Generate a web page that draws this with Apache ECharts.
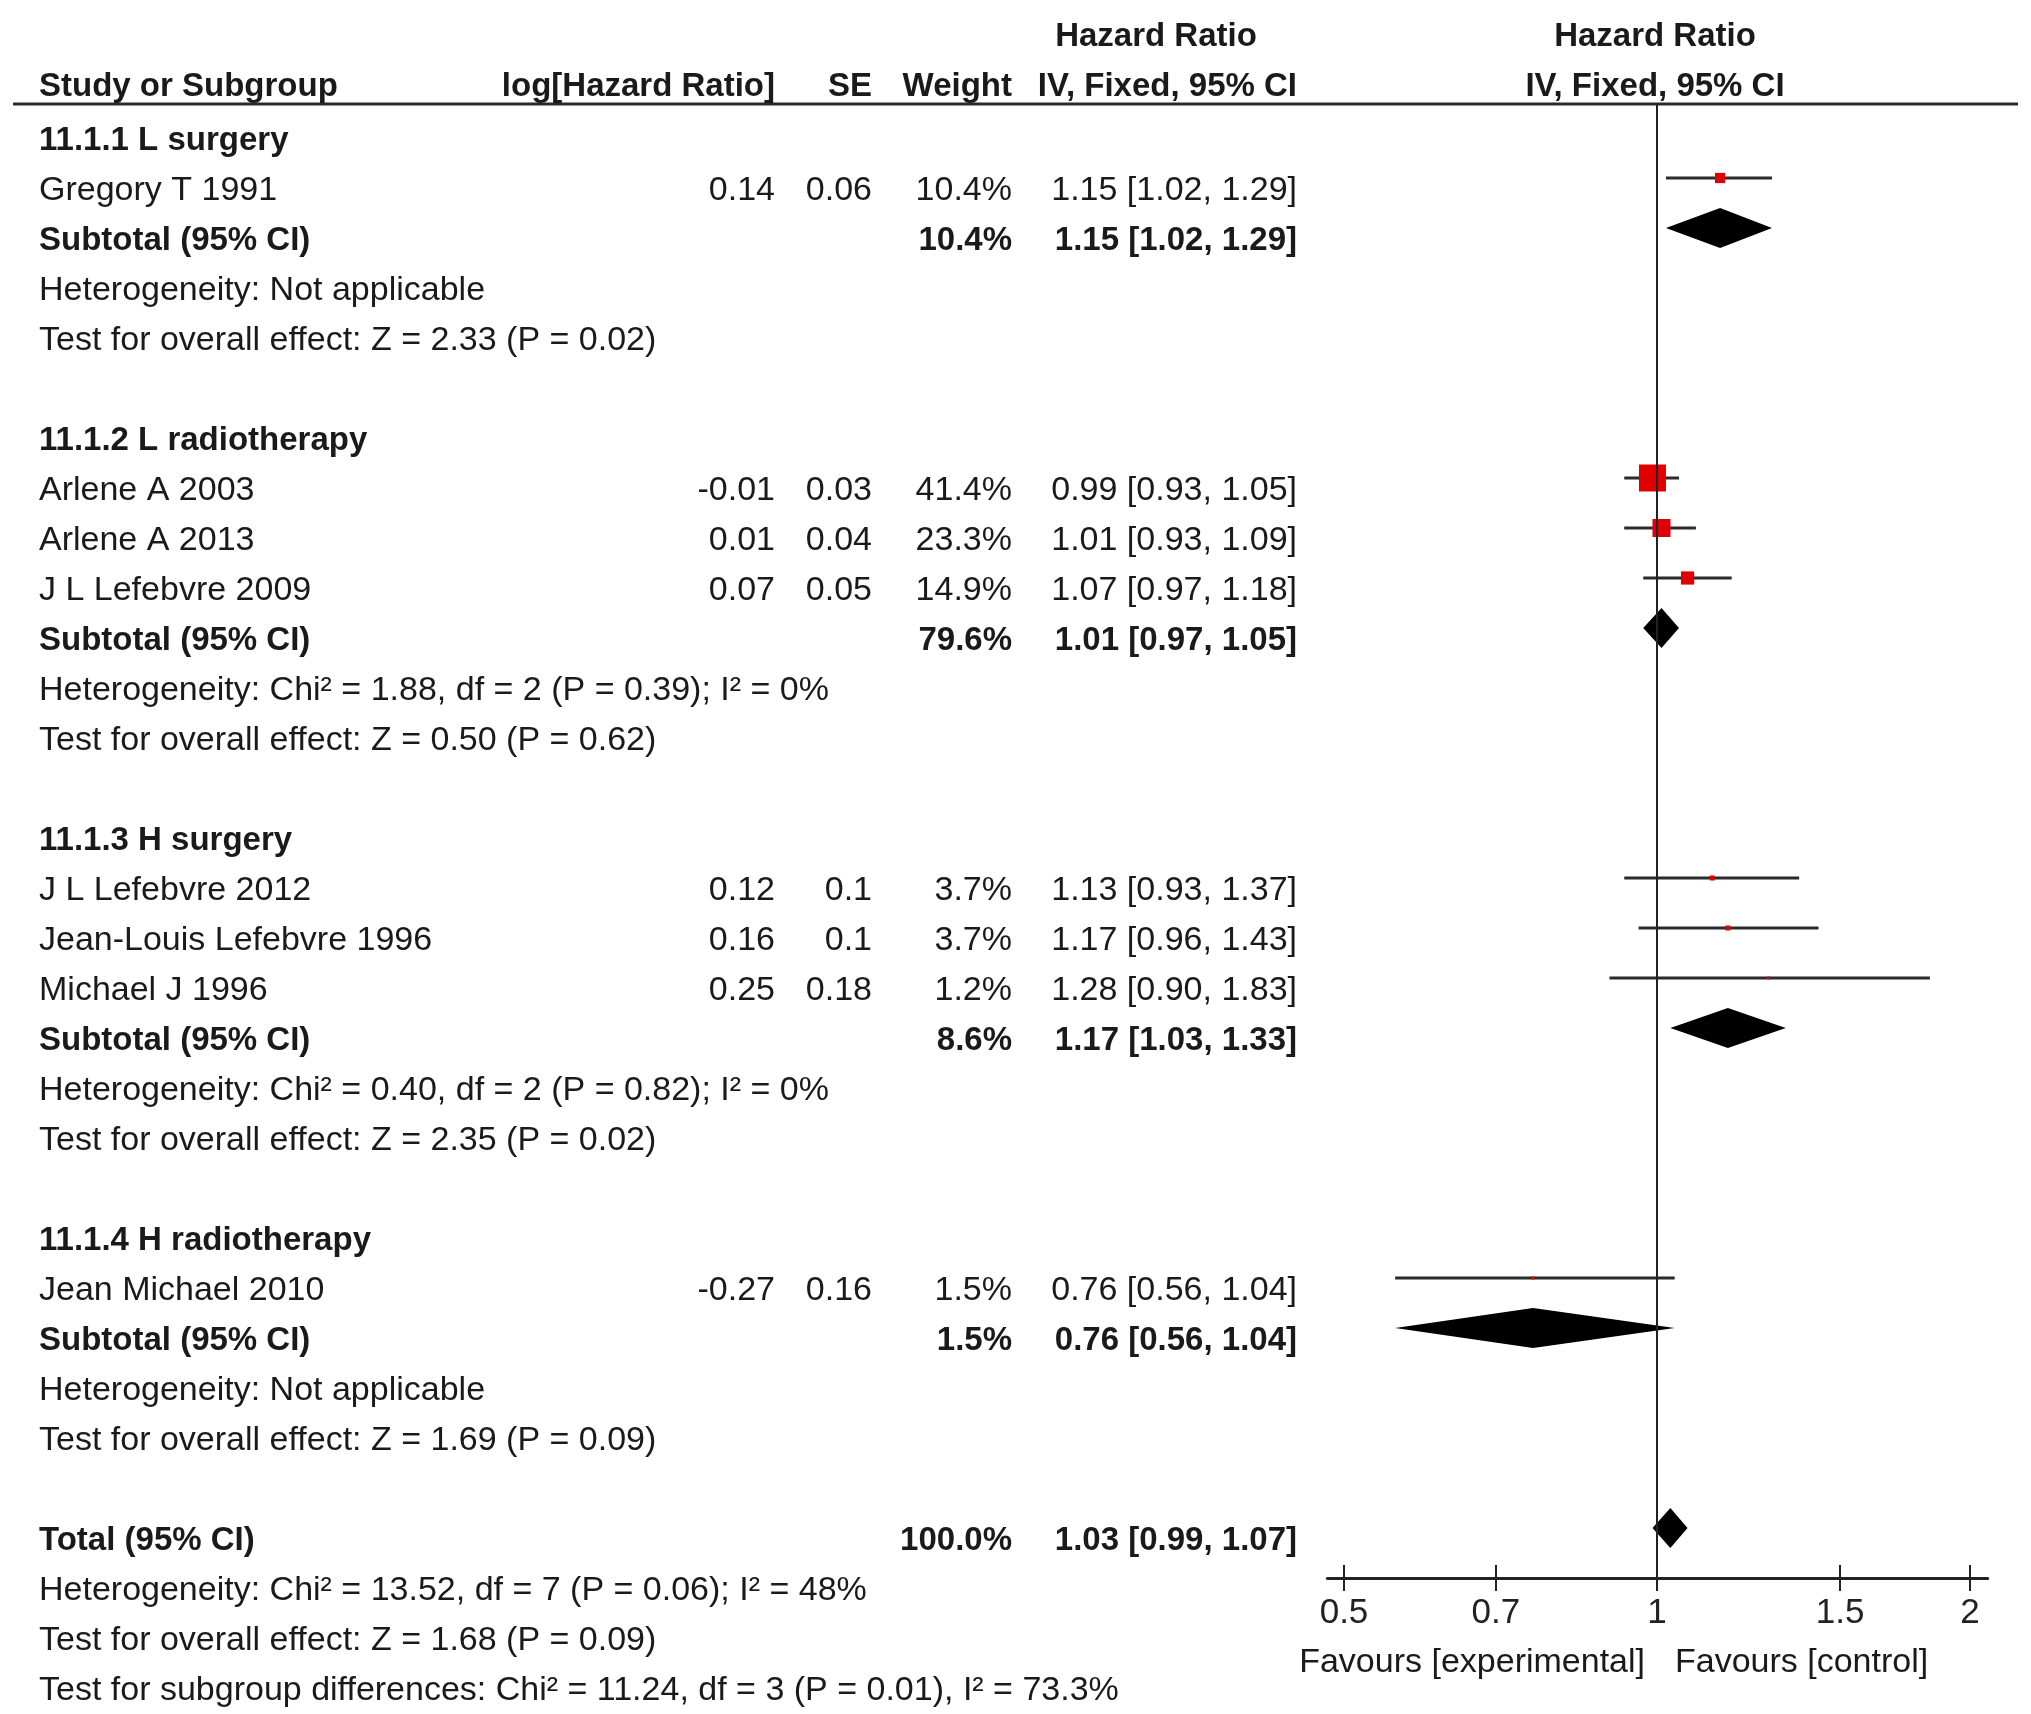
<!DOCTYPE html>
<html>
<head>
<meta charset="utf-8">
<script src="https://cdn.jsdelivr.net/npm/echarts@6/dist/echarts.min.js"></script>
<style>
html,body{margin:0;padding:0;background:#fff;}
#chart{width:2031px;height:1714px;}
</style>
</head>
<body>
<div id="chart"></div>
<script>
// ---------- DATA ----------
const rowLabels = [
  '11.1.1 L surgery',
  'Gregory T 1991',
  'Subtotal (95% CI)',
  'Heterogeneity: Not applicable',
  'Test for overall effect: Z = 2.33 (P = 0.02)',
  '',
  '11.1.2 L radiotherapy',
  'Arlene A 2003',
  'Arlene A 2013',
  'J L Lefebvre 2009',
  'Subtotal (95% CI)',
  'Heterogeneity: Chi\u00b2 = 1.88, df = 2 (P = 0.39); I\u00b2 = 0%',
  'Test for overall effect: Z = 0.50 (P = 0.62)',
  '',
  '11.1.3 H surgery',
  'J L Lefebvre 2012',
  'Jean-Louis Lefebvre 1996',
  'Michael J 1996',
  'Subtotal (95% CI)',
  'Heterogeneity: Chi\u00b2 = 0.40, df = 2 (P = 0.82); I\u00b2 = 0%',
  'Test for overall effect: Z = 2.35 (P = 0.02)',
  '',
  '11.1.4 H radiotherapy',
  'Jean Michael 2010',
  'Subtotal (95% CI)',
  'Heterogeneity: Not applicable',
  'Test for overall effect: Z = 1.69 (P = 0.09)',
  '',
  'Total (95% CI)',
  'Heterogeneity: Chi\u00b2 = 13.52, df = 7 (P = 0.06); I\u00b2 = 48%',
  'Test for overall effect: Z = 1.68 (P = 0.09)',
  'Test for subgroup differences: Chi\u00b2 = 11.24, df = 3 (P = 0.01), I\u00b2 = 73.3%'
];
const boldRows = [0, 2, 6, 10, 14, 18, 22, 24, 28];

const studyRows   = [1, 7, 8, 9, 15, 16, 17, 23];
const studyLogHR  = ['0.14', '-0.01', '0.01', '0.07', '0.12', '0.16', '0.25', '-0.27'];
const studySE     = ['0.06', '0.03', '0.04', '0.05', '0.1', '0.1', '0.18', '0.16'];
const studyWeight = [10.4, 41.4, 23.3, 14.9, 3.7, 3.7, 1.2, 1.5];
const studyHR     = [1.15, 0.99, 1.01, 1.07, 1.13, 1.17, 1.28, 0.76];
const studyLo     = [1.02, 0.93, 0.93, 0.97, 0.93, 0.96, 0.90, 0.56];
const studyHi     = [1.29, 1.05, 1.09, 1.18, 1.37, 1.43, 1.83, 1.04];

const pooledRows   = [2, 10, 18, 24, 28];
const pooledWeight = [10.4, 79.6, 8.6, 1.5, 100.0];
const pooledHR     = [1.15, 1.01, 1.17, 0.76, 1.03];
const pooledLo     = [1.02, 0.97, 1.03, 0.56, 0.99];
const pooledHi     = [1.29, 1.05, 1.33, 1.04, 1.07];

const tickValues = [0.5, 0.7, 1, 1.5, 2];
const tickLabels = ['0.5', '0.7', '1', '1.5', '2'];
const favourLabels = ['Favours [experimental]', 'Favours [control]'];

// ---------- LAYOUT ----------
const FONT = '"Liberation Sans", Arial, sans-serif';
const REG = '34px ' + FONT;
const BOLD = 'bold 33px ' + FONT;
const TXT = '#1a1a1a';
const TEXT_DY = 0.26;       // text centre below marker centre, in row units
const ROW_MIN = -0.48, ROW_MAX = 29;
const GRID_TOP = 104, GRID_H = 1474;
const TICK = 13;
const L = Math.log10;

const col = { study: 39, logHR: 775, se: 872, weight: 1012, ci: 1297 };

function fmtCI(h, lo, hi) {
  return h.toFixed(2) + ' [' + lo.toFixed(2) + ', ' + hi.toFixed(2) + ']';
}

const textItems = [];
// headers
textItems.push({ x: 1156, y: -1.82, t: 'Hazard Ratio', a: 'center', b: true });
textItems.push({ x: 1655, y: -1.82, t: 'Hazard Ratio', a: 'center', b: true });
textItems.push({ x: col.study, y: -0.82, t: 'Study or Subgroup', a: 'left', b: true });
textItems.push({ x: col.logHR, y: -0.82, t: 'log[Hazard Ratio]', a: 'right', b: true });
textItems.push({ x: col.se, y: -0.82, t: 'SE', a: 'right', b: true });
textItems.push({ x: col.weight, y: -0.82, t: 'Weight', a: 'right', b: true });
textItems.push({ x: col.ci, y: -0.82, t: 'IV, Fixed, 95% CI', a: 'right', b: true });
textItems.push({ x: 1655, y: -0.82, t: 'IV, Fixed, 95% CI', a: 'center', b: true });
// row labels
rowLabels.forEach((s, i) => {
  if (s) textItems.push({ x: col.study, y: i + TEXT_DY, t: s, a: 'left', b: boldRows.indexOf(i) >= 0 });
});
// study columns
studyRows.forEach((r, k) => {
  textItems.push({ x: col.logHR, y: r + TEXT_DY, t: studyLogHR[k], a: 'right', b: false });
  textItems.push({ x: col.se, y: r + TEXT_DY, t: studySE[k], a: 'right', b: false });
  textItems.push({ x: col.weight, y: r + TEXT_DY, t: studyWeight[k].toFixed(1) + '%', a: 'right', b: false });
  textItems.push({ x: col.ci, y: r + TEXT_DY, t: fmtCI(studyHR[k], studyLo[k], studyHi[k]), a: 'right', b: false });
});
pooledRows.forEach((r, k) => {
  textItems.push({ x: col.weight, y: r + TEXT_DY, t: pooledWeight[k].toFixed(1) + '%', a: 'right', b: true });
  textItems.push({ x: col.ci, y: r + TEXT_DY, t: fmtCI(pooledHR[k], pooledLo[k], pooledHi[k]), a: 'right', b: true });
});
// favours captions
textItems.push({ x: 1645, y: 30.7, t: favourLabels[0], a: 'right', b: false });
textItems.push({ x: 1675, y: 30.7, t: favourLabels[1], a: 'left', b: false });

const tickLogs = tickValues.map(L);
const xMin = L(0.5) - 0.016, xMax = L(2) + 0.017;
// forest grid: 0.5 at x=1344, 2 at x=1970
const pxPerLog = (1970 - 1344) / (L(2) - L(0.5));
const forestLeft = 1344 - (L(0.5) - xMin) * pxPerLog;
const forestWidth = (xMax - xMin) * pxPerLog;

function sqSize(w) { return Math.max(3, 27 * Math.pow(w / 41.4, 0.7)); }

const chart = echarts.init(document.getElementById('chart'), null, { renderer: 'canvas' });

const option = {
  backgroundColor: '#ffffff',
  animation: false,
  grid: [
    { left: forestLeft, top: GRID_TOP, height: GRID_H, width: forestWidth },
    { left: 0, top: GRID_TOP, width: 2031, height: GRID_H },
    // helper grid whose bottom edge sits TICK px below the axis, used for the upper half of the ticks
    { left: forestLeft, top: GRID_TOP, height: GRID_H + TICK, width: forestWidth }
  ],
  xAxis: [
    {
      gridIndex: 0, type: 'value', min: xMin, max: xMax, position: 'bottom',
      axisLine: { show: true, onZero: false, lineStyle: { color: '#222', width: 3 } },
      axisTick: { show: true, customValues: tickLogs, length: TICK, lineStyle: { color: '#222', width: 2 } },
      axisLabel: {
        show: true, customValues: tickLogs, margin: 18, color: '#222',
        fontFamily: FONT, fontSize: 35,
        formatter: (v) => { const i = tickLogs.findIndex(t => Math.abs(t - v) < 1e-6); return i >= 0 ? tickLabels[i] : ''; }
      },
      splitLine: { show: false }
    },
    { gridIndex: 1, type: 'value', min: 0, max: 2031, show: false },
    {
      gridIndex: 2, type: 'value', min: xMin, max: xMax, position: 'bottom',
      axisLine: { show: false },
      axisTick: { show: true, inside: true, customValues: tickLogs, length: 2 * TICK, lineStyle: { color: '#222', width: 2 } },
      axisLabel: { show: false },
      splitLine: { show: false }
    }
  ],
  yAxis: [
    { gridIndex: 0, type: 'value', min: ROW_MIN, max: ROW_MAX, inverse: true, show: false },
    { gridIndex: 1, type: 'value', min: ROW_MIN, max: ROW_MAX, inverse: true, show: false },
    { gridIndex: 2, type: 'value', min: 0, max: 1, show: false }
  ],
  graphic: [
    { type: 'line', shape: { x1: 13, y1: 104, x2: 2018, y2: 104 }, style: { stroke: '#2a2a2a', lineWidth: 3 }, z: 5 }
  ],
  series: [
    // confidence interval whiskers
    {
      type: 'custom', xAxisIndex: 0, yAxisIndex: 0, clip: false, z: 3,
      encode: { x: [0, 1], y: 2 },
      data: studyRows.map((r, k) => [L(studyLo[k]), L(studyHi[k]), r]),
      renderItem: (params, api) => {
        const p1 = api.coord([api.value(0), api.value(2)]);
        const p2 = api.coord([api.value(1), api.value(2)]);
        return { type: 'line', shape: { x1: p1[0], y1: p1[1], x2: p2[0], y2: p2[1] }, style: { stroke: '#2b2b2b', lineWidth: 3 } };
      }
    },
    // study squares
    {
      type: 'scatter', xAxisIndex: 0, yAxisIndex: 0, z: 4,
      symbol: 'rect',
      data: studyRows.map((r, k) => [L(studyHR[k]), r, studyWeight[k]]),
      symbolSize: (val) => sqSize(val[2]),
      itemStyle: { color: '#e00000', opacity: 1 },
      markLine: {
        silent: true, symbol: 'none', animation: false,
        label: { show: false },
        lineStyle: { color: '#222', width: 2, type: 'solid' },
        data: [{ xAxis: 0 }]
      }
    },
    // pooled diamonds
    {
      type: 'custom', xAxisIndex: 0, yAxisIndex: 0, clip: false, z: 4,
      encode: { x: [0, 1, 2], y: 3 },
      data: pooledRows.map((r, k) => [L(pooledLo[k]), L(pooledHR[k]), L(pooledHi[k]), r]),
      renderItem: (params, api) => {
        const l = api.coord([api.value(0), api.value(3)]);
        const c = api.coord([api.value(1), api.value(3)]);
        const h = api.coord([api.value(2), api.value(3)]);
        return { type: 'polygon', shape: { points: [[l[0], c[1]], [c[0], c[1] - 20], [h[0], c[1]], [c[0], c[1] + 20]] }, style: { fill: '#000' } };
      }
    },
    // text layer
    {
      type: 'custom', xAxisIndex: 1, yAxisIndex: 1, clip: false, z: 6, silent: true,
      encode: { x: 0, y: 1 },
      data: textItems.map(o => [o.x, o.y]),
      renderItem: (params, api) => {
        const o = textItems[params.dataIndex];
        const p = api.coord([api.value(0), api.value(1)]);
        return { type: 'text', x: p[0], y: p[1], style: { text: o.t, fill: TXT, font: o.b ? BOLD : REG, align: o.a, verticalAlign: 'middle' } };
      }
    }
  ]
};
chart.setOption(option);
</script>
</body>
</html>
